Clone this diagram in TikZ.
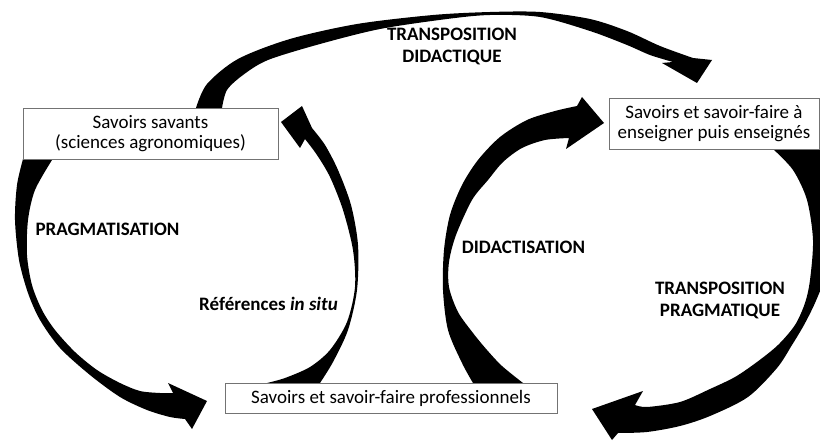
\documentclass[tikz,border=0pt]{standalone}
\usepackage{fontspec}
\setmainfont{Carlito}
\begin{document}
\begin{tikzpicture}[x=1pt,y=-1pt,
  box/.style={draw=black!55, line width=0.8pt, fill=white, inner sep=0pt, align=center, font=\fontsize{19}{20.5}\selectfont},
  lbl/.style={font=\fontsize{19}{22}\selectfont\bfseries, align=center, inner sep=0pt},
  band/.style={fill=black}]
\useasboundingbox (0,0) rectangle (820,441);
\begin{scope}
\clip (0,0) rectangle (820,441);
% TRANSPOSITION DIDACTIQUE
\fill[band] plot[smooth] coordinates {(196,108) (207,84) (238,59) (290,39) (357,24) (433,15) (490,12) (540,12) (590,19) (627,31) (660,46) (693,58)}
  -- (712,60) -- (697,83) -- (662,63) --
  plot[smooth] coordinates {(673,62) (650,55) (627,45) (590,31) (540,17) (490,15) (447,19) (380,29) (320,44) (268,60) (243,75) (227,90) (222,108)} -- cycle;
% PRAGMATISATION
\fill[band] plot[smooth] coordinates {(23,159) (17,185) (15,220) (19,260) (28,293) (40,320) (60,348) (90,375) (120,397) (147,410) (170,417) (185,419)}
  -- (192,429) -- (207,401) -- (168,383) --
  plot[smooth] coordinates {(173,393) (160,393) (140,391) (120,383) (97,370) (75,352) (55,330) (42,310) (32,285) (27,255) (28,220) (35,190) (52,160)} -- cycle;
% References in situ
\fill[band] plot[smooth] coordinates {(320,383) (333,362) (348,330) (357,290) (358,245) (351,205) (338,170) (325,145) (312,128)}
  -- (302,106) -- (281,122) -- (300,148) --
  plot[smooth] coordinates {(305,139) (317,155) (330,177) (343,210) (353,250) (355,287) (347,322) (330,350) (310,367) (285,378) (267,383)} -- cycle;
% DIDACTISATION
\fill[band] plot[smooth] coordinates {(473,383) (462,363) (448,330) (443,290) (444,250) (450,215) (462,185) (478,160) (500,137) (527,120) (555,111) (577,106)}
  -- (582,97) -- (604,123) -- (566,149) --
  plot[smooth] coordinates {(569,138) (545,140) (522,148) (503,162) (488,180) (472,200) (456,235) (449,262) (449,287) (458,312) (473,333) (487,350) (502,366) (523,383)} -- cycle;
% TRANSPOSITION PRAGMATIQUE
\fill[band] plot[smooth] coordinates {(828,149) (836,190) (835,240) (826,275) (815,303) (804,325) (792,345) (777,368) (748,397) (710,416) (680,426) (647,432) (618,433)}
  -- (612,440) -- (592,409) -- (643,391) --
  plot[smooth] coordinates {(635,405) (647,407) (680,402) (710,389) (735,377) (757,362) (778,345) (795,325) (805,303) (810,280) (813,240) (807,200) (793,170) (773,149)} -- cycle;
\end{scope}
% boxes
\node[box, minimum width=255, minimum height=51] (sav) at (150.5,133.5) {Savoirs savants\\(sciences agronomiques)};
\node[box, minimum width=210, minimum height=51] (ens) at (714,123.5) {Savoirs et savoir-faire à\\enseigner puis enseignés};
\node[box, minimum width=332, minimum height=30] (pro) at (391,398) {Savoirs et savoir-faire professionnels};
% labels
\node[lbl] (tdl) at (452,46) {TRANSPOSITION\\DIDACTIQUE};
\node[lbl] (prag) at (107.5,229) {PRAGMATISATION};
\node[lbl] (ref) at (268.5,304) {Références \textit{in situ}};
\node[lbl] (did) at (523.5,247.5) {DIDACTISATION};
\node[lbl] (tpr) at (720,300) {TRANSPOSITION\\PRAGMATIQUE};
\end{tikzpicture}
\end{document}
